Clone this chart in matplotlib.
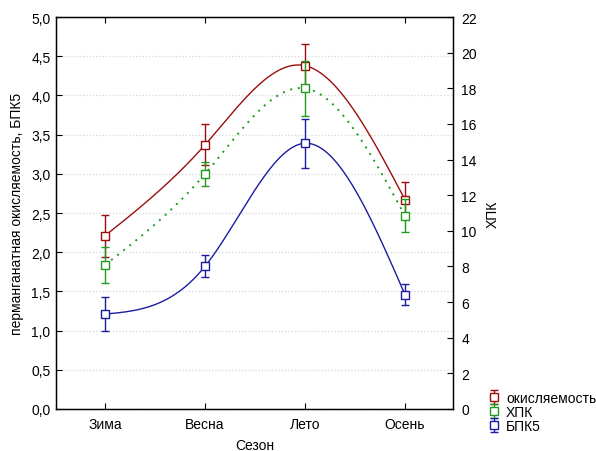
import numpy as np
import matplotlib
matplotlib.use("Agg")
import matplotlib.pyplot as plt
from matplotlib.ticker import FuncFormatter, MultipleLocator

plt.rcParams['font.family'] = ['Liberation Sans', 'DejaVu Sans']

seasons = ["Зима", "Весна", "Лето", "Осень"]
okisl = [2.21, 3.37, 4.38, 2.67]
okisl_err = [0.27, 0.26, 0.28, 0.22]
hpk = [8.08, 13.19, 18.0, 10.85]
hpk_err = [1.02, 0.65, 1.55, 0.93]
bpk5 = [1.21, 1.82, 3.39, 1.46]
bpk5_err = [0.22, 0.14, 0.31, 0.13]

RED = '#990f0f'
GREEN = '#1f9a1f'
BLUE = '#1c1ca0'
FS = 10


def natural_spline(x, y, n=200):
    x = np.asarray(x, float)
    y = np.asarray(y, float)
    k = len(x)
    h = np.diff(x)
    A = np.zeros((k, k))
    b = np.zeros(k)
    A[0, 0] = 1
    A[-1, -1] = 1
    for i in range(1, k - 1):
        A[i, i - 1] = h[i - 1]
        A[i, i] = 2 * (h[i - 1] + h[i])
        A[i, i + 1] = h[i]
        b[i] = 6 * ((y[i + 1] - y[i]) / h[i] - (y[i] - y[i - 1]) / h[i - 1])
    M = np.linalg.solve(A, b)
    xs = np.linspace(x[0], x[-1], n)
    ys = np.empty_like(xs)
    for j, xv in enumerate(xs):
        i = min(np.searchsorted(x, xv) - 1, k - 2)
        i = max(i, 0)
        t1 = x[i + 1] - xv
        t2 = xv - x[i]
        ys[j] = (M[i] * t1 ** 3 / (6 * h[i]) + M[i + 1] * t2 ** 3 / (6 * h[i])
                 + (y[i] / h[i] - M[i] * h[i] / 6) * t1
                 + (y[i + 1] / h[i] - M[i + 1] * h[i] / 6) * t2)
    return xs, ys


fig = plt.figure(figsize=(5.96, 4.52), dpi=100)
ax = fig.add_axes([0.094, 0.093, 0.666, 0.867])
ax2 = ax.twinx()

x = np.arange(len(seasons))

# grid
ax.set_ylim(0, 5)
ax.yaxis.set_major_locator(MultipleLocator(0.5))
ax.grid(axis='y', color='#d6d6d6', linestyle=':', linewidth=0.9)
ax.set_axisbelow(True)

# curves
xs, ys = natural_spline(x, okisl)
ax.plot(xs, ys, color=RED, lw=1.0, zorder=3)
xs, ys = natural_spline(x, bpk5)
ax.plot(xs, ys, color=BLUE, lw=1.0, zorder=3)
xs, ys = natural_spline(x, hpk)
ax2.plot(xs, ys, color=GREEN, lw=1.4, linestyle=(0, (1, 3)), zorder=3)

ms = 6
kw = dict(fmt='s', mfc='white', ms=ms, mew=1.0, elinewidth=1.0, capsize=3,
          capthick=1.0, zorder=4)
h1 = ax.errorbar(x, okisl, yerr=okisl_err, mec=RED, ecolor=RED, **kw)
h3 = ax.errorbar(x, bpk5, yerr=bpk5_err, mec=BLUE, ecolor=BLUE, **kw)
h2 = ax2.errorbar(x, hpk, yerr=hpk_err, mec=GREEN, ecolor=GREEN, **kw)

ax.set_xlim(-0.49, 3.48)
ax.set_xticks(x)
ax.set_xticklabels(seasons)
ax2.set_ylim(0, 22)
ax2.yaxis.set_major_locator(MultipleLocator(2))

comma = FuncFormatter(lambda v, p: f"{v:.1f}".replace('.', ','))
ax.yaxis.set_major_formatter(comma)
ax2.yaxis.set_major_formatter(FuncFormatter(lambda v, p: f"{v:.0f}"))

for a in (ax, ax2):
    a.tick_params(direction='in', labelsize=FS, length=4, width=0.8)
ax.tick_params(axis='x', top=True, pad=6)
ax.tick_params(axis='y', pad=4)
ax2.tick_params(axis='y', pad=6)

for s in ax.spines.values():
    s.set_linewidth(1.0)

ax.set_xlabel("Сезон", fontsize=FS, labelpad=5)
ax.set_ylabel("перманганатная окисляемость, БПК5", fontsize=FS, labelpad=5)
ax2.set_ylabel("ХПК", fontsize=FS, labelpad=6)

fig.legend([h1, h2, h3], ["окисляемость", "ХПК", "БПК5"], loc='upper left',
           bbox_to_anchor=(0.805, 0.148), frameon=False, fontsize=FS,
           handlelength=1.0, handletextpad=0.4, labelspacing=0.0,
           borderpad=0, markerscale=0.85)

fig.savefig("out.png", dpi=100)
